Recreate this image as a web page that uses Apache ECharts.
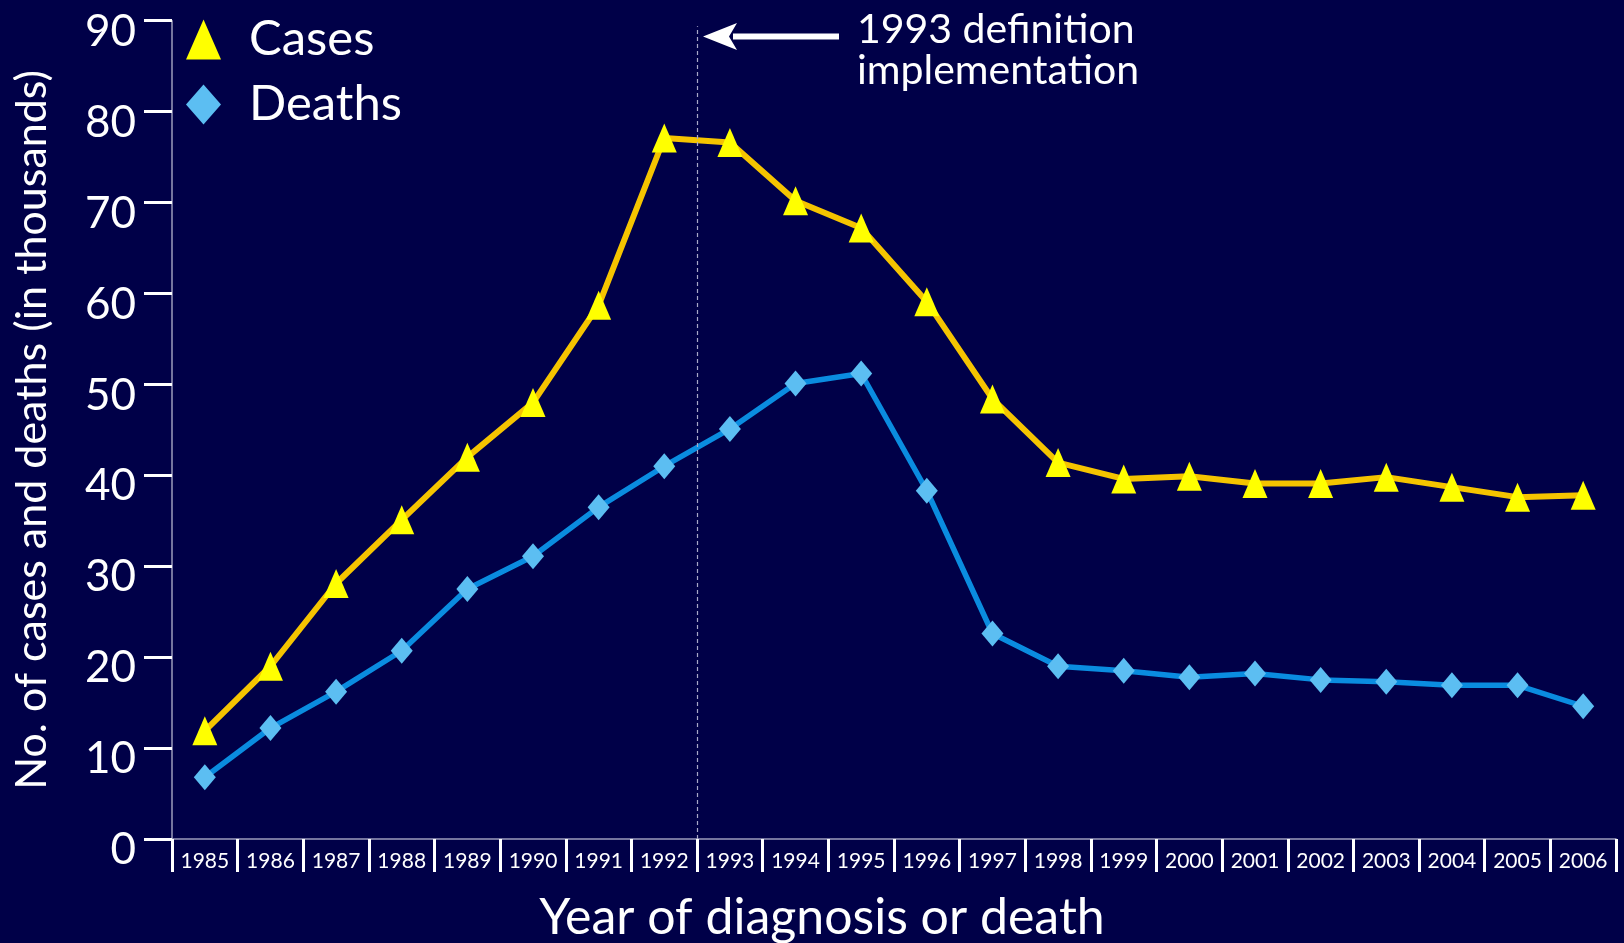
<!DOCTYPE html>
<html>
<head>
<meta charset="utf-8">
<script src="https://cdn.jsdelivr.net/npm/echarts@6/dist/echarts.min.js"></script>
<style>
html,body{margin:0;padding:0;background:#000048;}
#c{width:1624px;height:943px;}
</style>
</head>
<body>
<div id="c"></div>
<script>
// ---- data ----
const years = ['1985','1986','1987','1988','1989','1990','1991','1992','1993','1994','1995',
               '1996','1997','1998','1999','2000','2001','2002','2003','2004','2005','2006'];
const cases  = [11.9, 19.0, 28.1, 35.1, 42.0, 48.0, 58.7, 77.1, 76.6, 70.2, 67.2,
                59.1, 48.4, 41.4, 39.6, 39.9, 39.1, 39.1, 39.8, 38.7, 37.6, 37.8];
const deaths = [6.8, 12.2, 16.2, 20.7, 27.5, 31.1, 36.5, 41.0, 45.1, 50.1, 51.2,
                38.3, 22.6, 19.0, 18.5, 17.8, 18.2, 17.5, 17.3, 16.9, 16.9, 14.6];
const yMin = 0, yMax = 90, yStep = 10;
const seriesNames = ['Cases', 'Deaths'];
const axisTitleX = 'Year of diagnosis or death';
const axisTitleY = 'No. of cases and deaths (in thousands)';
const noteText = '1993 definition\nimplementation';
// position of the definition change (boundary between 1992 and 1993, in category units)
const changeAt = 8;
const changeTop = 89.4;

const FONT = 'Lato';
const chart = echarts.init(document.getElementById('c'), null, {renderer: 'canvas'});

const option = {
  backgroundColor: '#000048',
  animation: false,
  textStyle: {fontFamily: FONT},
  grid: {left: 172, right: 8, top: 20.7, bottom: 104, containLabel: false, outerBoundsMode: 'none'},
  legend: {
    orient: 'vertical',
    left: 186, top: 15,
    padding: 0,
    itemWidth: 35, itemHeight: 40,
    symbolKeepAspect: false,
    itemGap: 16,
    textStyle: {color: '#ffffff', fontSize: 49, lineHeight: 48, fontFamily: FONT, padding: [0, 0, 0, 23]},
    itemStyle: {borderWidth: 0},
    data: [
      {name: seriesNames[0], icon: 'triangle'},
      {name: seriesNames[1], icon: 'diamond'}
    ]
  },
  xAxis: [{
    type: 'category',
    data: years,
    boundaryGap: true,
    name: axisTitleX,
    nameLocation: 'middle',
    nameGap: 54,
    nameTextStyle: {color: '#ffffff', fontSize: 50, lineHeight: 50, fontFamily: FONT, padding: [0, 144, 0, 0]},
    axisLine: {show: true, lineStyle: {color: '#9c9cbc', width: 1.5}},
    axisTick: {show: true, interval: 0, length: 33, lineStyle: {color: '#ffffff', width: 3}},
    axisLabel: {color: '#ffffff', fontSize: 21, margin: 12, interval: 0, fontFamily: FONT},
    splitLine: {show: false}
  }, {
    type: 'value', show: false, min: 0, max: years.length
  }],
  yAxis: {
    type: 'value',
    min: yMin, max: yMax, interval: yStep,
    name: axisTitleY,
    nameLocation: 'middle',
    nameGap: 118,
    nameTextStyle: {color: '#ffffff', fontSize: 43, lineHeight: 43, fontFamily: FONT},
    axisLine: {show: true, lineStyle: {color: '#9c9cbc', width: 1.5}},
    axisTick: {show: true, length: 28, lineStyle: {color: '#ffffff', width: 3}},
    axisLabel: {color: '#ffffff', fontSize: 44, lineHeight: 22, verticalAlign: 'top', margin: 36, fontFamily: FONT},
    splitLine: {show: false}
  },
  series: [
    {
      name: seriesNames[1],
      type: 'line',
      data: deaths,
      symbol: 'diamond',
      symbolSize: [22, 26],
      lineStyle: {color: '#0a8ce0', width: 5.5},
      itemStyle: {color: '#5cbef2', borderWidth: 0},
      z: 3
    },
    {
      name: seriesNames[0],
      type: 'line',
      data: cases,
      symbol: 'triangle',
      symbolSize: [25, 29],
      lineStyle: {color: '#f5c400', width: 6},
      itemStyle: {color: '#ffff00', borderWidth: 0},
      z: 4
    },
    {
      name: 'change',
      type: 'line',
      xAxisIndex: 1,
      data: [],
      markLine: {
        silent: true,
        symbol: ['none', 'none'],
        label: {show: false},
        lineStyle: {color: '#a8a8c8', type: [4, 3], width: 1.2},
        data: [[{coord: [changeAt, yMin]}, {coord: [changeAt, changeTop]}]]
      }
    }
  ],
  graphic: [
    {type: 'line', shape: {x1: 733, y1: 36.5, x2: 839, y2: 36.5},
     style: {stroke: '#ffffff', lineWidth: 6}, z: 10},
    {type: 'polygon', shape: {points: [[703, 36.5], [737, 23], [729, 36.5], [737, 50]]},
     style: {fill: '#ffffff'}, z: 10},
    {type: 'text', left: 857, top: 9, z: 10,
     style: {text: noteText, fill: '#ffffff', font: '41px Lato', lineHeight: 41}}
  ]
};
chart.setOption(option);
</script>
</body>
</html>
